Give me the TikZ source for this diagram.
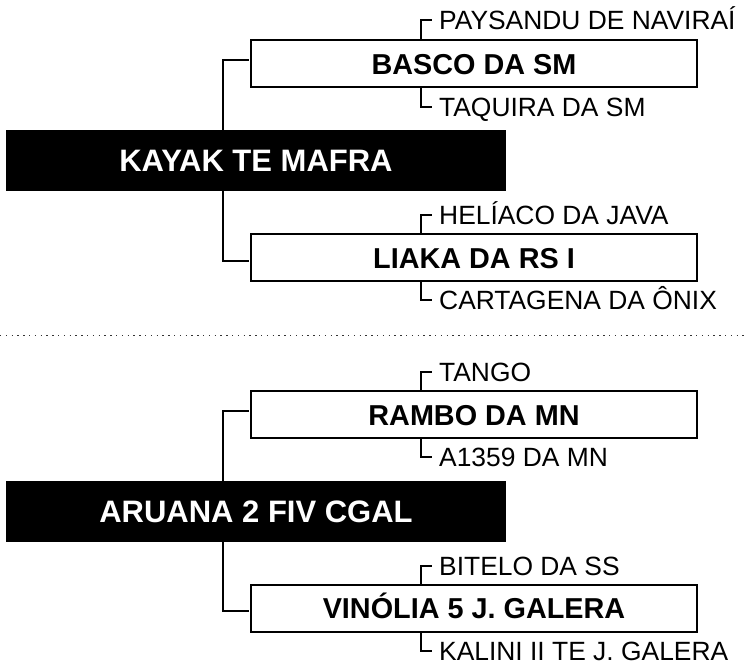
\documentclass[tikz,border=0pt]{standalone}
\usepackage{fontspec}
\setmainfont{Liberation Sans}
\begin{document}
\begin{tikzpicture}[x=1pt,y=-1pt,
  ln/.style={line width=2pt},
  kbox/.style={fill=black,text=white,font=\fontsize{31}{31}\selectfont\bfseries,
    minimum width=500pt,minimum height=60.7pt,inner sep=0pt,text height=22.2pt,text depth=0pt},
  bbox/.style={draw,line width=2pt,font=\fontsize{28.8}{28.8}\selectfont\bfseries,
    minimum width=446pt,minimum height=47pt,inner sep=0pt,text height=20.6pt,text depth=0pt},
  lab/.style={anchor=west,font=\fontsize{26.4}{26.4}\selectfont,inner xsep=7pt,inner ysep=0pt,
    text height=18.9pt,text depth=0pt},
  dots/.style={line width=1.4pt,dash pattern=on 1.4pt off 4.4pt,black!80}
]
\useasboundingbox (0,0) rectangle (745,665);

% ---------- top tree ----------
\node[kbox] (k1) at (256,160.35) {KAYAK TE MAFRA};
\node[bbox] (b1) at (474,63.8) {BASCO DA SM};
\node[bbox] (b2) at (474,257.7) {LIAKA DA RS I};
\node[lab] (l1) at (432,20) {PAYSANDU DE NAVIRAÍ};
\node[lab] (l2) at (432,106.7) {TAQUIRA DA SM};
\node[lab] (l3) at (432,215) {HELÍACO DA JAVA};
\node[lab] (l4) at (432,300) {CARTAGENA DA ÔNIX};

% ---------- bottom tree ----------
\node[kbox] (k2) at (256,511.35) {ARUANA 2 FIV CGAL};
\node[bbox] (b3) at (474,414.8) {RAMBO DA MN};
\node[bbox] (b4) at (474,608.4) {VINÓLIA 5 J. GALERA};
\node[lab] (l5) at (432,371.7) {TANGO};
\node[lab] (l6) at (432,456.7) {A1359 DA MN};
\node[lab] (l7) at (432,566) {BITELO DA SS};
\node[lab] (l8) at (432,650.7) {KALINI II TE J. GALERA};

\coordinate (vx) at (223.3,0);
\coordinate (tx) at (421,0);

% connectors from black boxes
\draw[ln,shorten >=1.5pt] (vx |- k1.north) |- ([yshift=4pt]b1.west);
\draw[ln,shorten >=1.5pt] (vx |- k1.south) |- ([yshift=-3pt]b2.west);
\draw[ln,shorten >=1.5pt] (vx |- k2.north) |- ([yshift=4pt]b3.west);
\draw[ln,shorten >=1.5pt] (vx |- k2.south) |- ([yshift=-3pt]b4.west);

% ticks to labels
\draw[ln] (tx |- b1.north) |- (l1.west);
\draw[ln] (tx |- b1.south) |- (l2.west);
\draw[ln] (tx |- b2.north) |- (l3.west);
\draw[ln] (tx |- b2.south) |- (l4.west);
\draw[ln] (tx |- b3.north) |- (l5.west);
\draw[ln] (tx |- b3.south) |- (l6.west);
\draw[ln] (tx |- b4.north) |- (l7.west);
\draw[ln] (tx |- b4.south) |- (l8.west);

% separator
\coordinate (dl) at (0,335.3);
\coordinate (dr) at (745,335.3);
\draw[dots] (dl) -- (dr);
\end{tikzpicture}
\end{document}
